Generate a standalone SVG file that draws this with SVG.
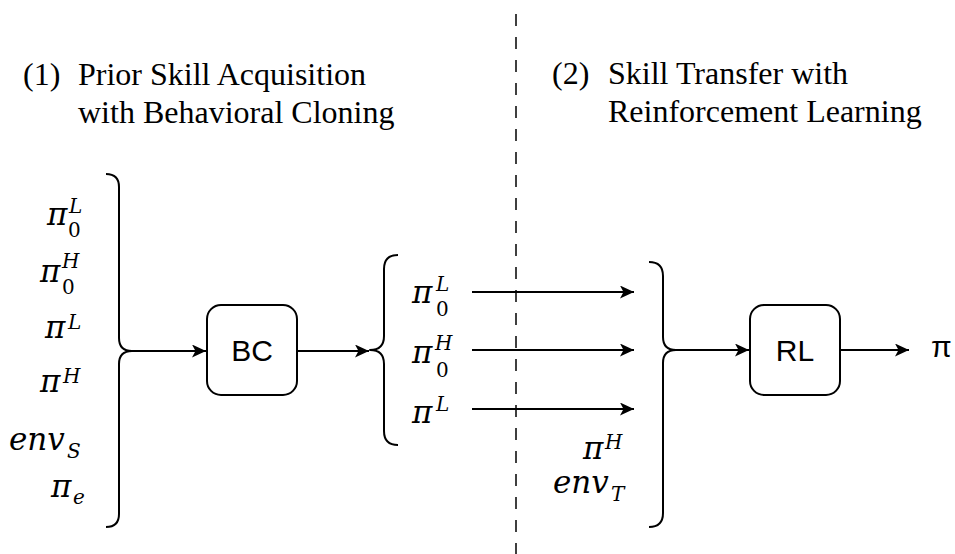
<svg xmlns="http://www.w3.org/2000/svg" width="955" height="554" viewBox="0 0 955 554">
<style>
.ln{fill:none;stroke:#000;stroke-width:2}
.br{fill:none;stroke:#000;stroke-width:2;stroke-linejoin:round}
.box{fill:#fff;stroke:#000;stroke-width:2}
</style>
<defs>
<marker id="ah" markerUnits="userSpaceOnUse" markerWidth="15" markerHeight="13" refX="14" refY="6.5" orient="auto">
<path d="M0,0 L14,6.5 L0,13 L3.5,6.5 z" fill="#000"/>
</marker>
</defs>
<rect width="955" height="554" fill="#fff"/>

<line x1="516" y1="14" x2="516" y2="554" stroke="#000" stroke-width="1.5" stroke-dasharray="12 11"/>

<g id="title1" font-family="'Liberation Serif', 'Times New Roman', serif" font-size="32" fill="#000">
<text x="23" y="85">(1)</text>
<text x="78" y="85">Prior Skill Acquisition</text>
<text x="78" y="123">with Behavioral Cloning</text>
</g>
<g id="title2" font-family="'Liberation Serif', 'Times New Roman', serif" font-size="32" fill="#000">
<text x="552" y="84">(2)</text>
<text x="608" y="84">Skill Transfer with</text>
<text x="608" y="122">Reinforcement Learning</text>
</g>

<g id="inputs1" font-family="'DejaVu Serif', serif" font-style="italic" fill="#000">
<text font-size="31" x="47" y="225">π</text><text font-size="20" x="69" y="213">L</text><text font-size="20" font-style="normal" x="68" y="237">0</text>
<text font-size="31" x="40" y="282">π</text><text font-size="20" x="62" y="268">H</text><text font-size="20" font-style="normal" x="62" y="294">0</text>
<text font-size="31" x="45" y="338">π</text><text font-size="20" x="68" y="329">L</text>
<text font-size="31" x="40" y="392">π</text><text font-size="20" x="63" y="383">H</text>
<text font-size="31" x="9" y="450">env</text><text font-size="20" x="67" y="458">S</text>
<text font-size="31" x="51" y="497">π</text><text font-size="20" x="73" y="504">e</text>
<path class="br" d="M106,174 Q119,174 119,187 L119,338 Q119,351 132,351 Q119,351 119,364 L119,514 Q119,527 106,527"/>
</g>

<g id="BC">
<rect class="box" x="207" y="305" width="90" height="90" rx="14"/>
<text font-family="'Liberation Sans', Arial, sans-serif" font-size="30" text-anchor="middle" x="252" y="361">BC</text>
</g>

<g id="outputs1" font-family="'DejaVu Serif', serif" font-style="italic" fill="#000">
<path class="br" d="M398,255 Q384,255 384,269 L384,336 Q384,350 370,350 Q384,350 384,364 L384,431 Q384,445 398,445"/>
<text font-size="31" x="412" y="303">π</text><text font-size="20" x="436" y="291">L</text><text font-size="20" font-style="normal" x="436" y="316">0</text>
<text font-size="31" x="412" y="363">π</text><text font-size="20" x="435" y="350">H</text><text font-size="20" font-style="normal" x="436" y="377">0</text>
<text font-size="31" x="412" y="423">π</text><text font-size="20" x="436" y="411">L</text>
</g>

<g id="inputs2" font-family="'DejaVu Serif', serif" font-style="italic" fill="#000">
<text font-size="31" x="583" y="459">π</text><text font-size="20" x="605" y="449">H</text>
<text font-size="31" x="553" y="493">env</text><text font-size="20" x="611" y="501">T</text>
<path class="br" d="M649,262 Q663,262 663,276 L663,337 Q663,350 676,350 Q663,350 663,363 L663,513 Q663,527 649,527"/>
</g>

<g id="RL">
<rect class="box" x="750" y="305" width="90" height="90" rx="14"/>
<text font-family="'Liberation Sans', Arial, sans-serif" font-size="30" text-anchor="middle" x="795" y="361">RL</text>
</g>

<g id="output">
<text font-family="'Liberation Sans', Arial, sans-serif" font-size="30" x="931" y="357">π</text>
</g>

<g id="connectors">
<line class="ln" x1="132" y1="351" x2="206" y2="351" marker-end="url(#ah)"/>
<line class="ln" x1="297" y1="351" x2="369" y2="351" marker-end="url(#ah)"/>
<line class="ln" x1="472" y1="292" x2="634" y2="292" marker-end="url(#ah)"/>
<line class="ln" x1="472" y1="350" x2="634" y2="350" marker-end="url(#ah)"/>
<line class="ln" x1="472" y1="409" x2="634" y2="409" marker-end="url(#ah)"/>
<line class="ln" x1="676" y1="350" x2="749" y2="350" marker-end="url(#ah)"/>
<line class="ln" x1="840" y1="350" x2="909" y2="350" marker-end="url(#ah)"/>
</g>
</svg>
